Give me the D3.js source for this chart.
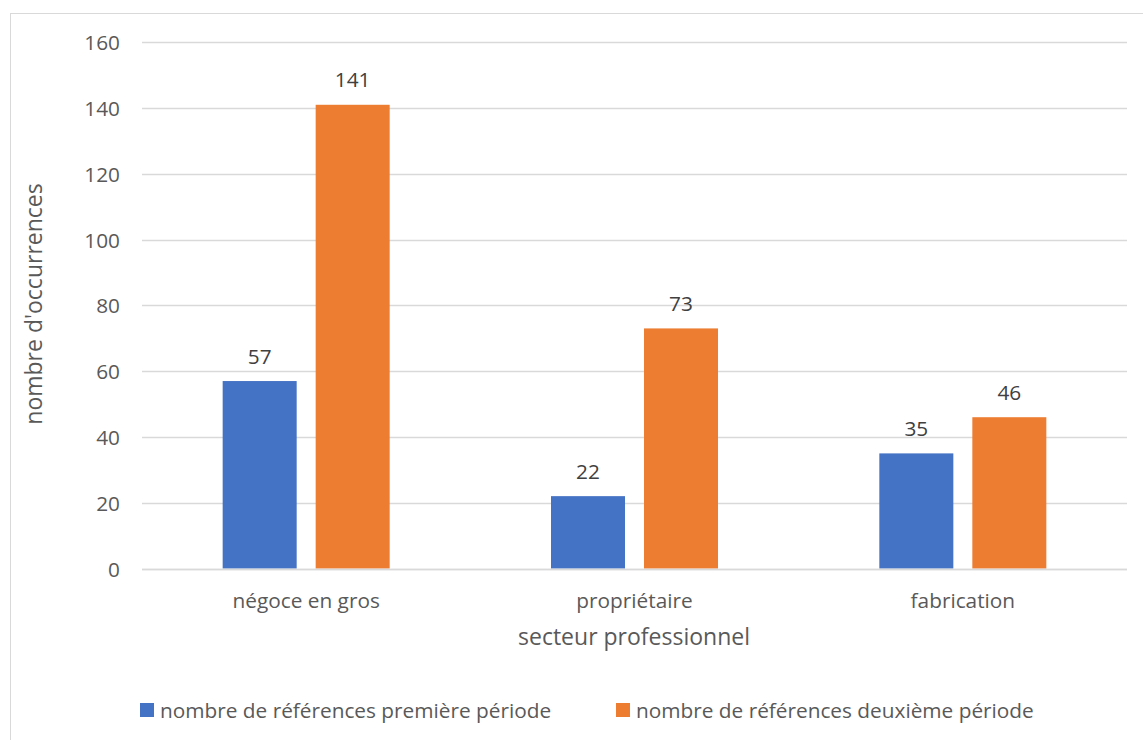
<!DOCTYPE html>
<html><head><meta charset="utf-8">
<script src="https://cdn.jsdelivr.net/npm/d3@7"></script>
<style>
html,body{margin:0;padding:0;background:#fff;}
text{font-family:"Open Sans",sans-serif;fill:#595959;}
</style></head>
<body>
<svg id="chart" width="1143" height="740"></svg>
<script>
const categories = ["négoce en gros", "propriétaire", "fabrication"];
const seriesNames = ["nombre de références première période", "nombre de références deuxième période"];
const firstPeriod = [57, 22, 35];
const secondPeriod = [141, 73, 46];
const yTicks = [0, 20, 40, 60, 80, 100, 120, 140, 160];
const colors = ["#4472C4", "#ED7D31"];
const yTitle = "nombre d'occurrences";
const xTitle = "secteur professionnel";

const FONT = '"Open Sans",sans-serif';
const FS = "20.8px";
const svg = d3.select("#chart");
svg.append("rect").attr("x",10.5).attr("y",13.5).attr("width",1140).attr("height",740)
  .attr("fill","#fff").attr("stroke","#d9d9d9").attr("stroke-width",1);

const m = {left:142, right:1127, top:42.3, bottom:568.5};
const x = d3.scaleBand().domain(categories).range([m.left, m.right]).paddingInner(0).paddingOuter(0);
const y = d3.scaleLinear().domain([0,160]).range([m.bottom, m.top]);
const inner = d3.scaleBand().domain([0,1]).range([0, 167]).paddingInner(19/93).paddingOuter(0);
const groupOffset = (x.bandwidth()-167)/2;

svg.append("g").selectAll("line").data(yTicks).join("line")
  .attr("x1", m.left).attr("x2", m.right)
  .attr("y1", d=>Math.round(y(d))+0.5).attr("y2", d=>Math.round(y(d))+0.5)
  .attr("stroke","#d9d9d9").attr("stroke-width",1.3);

const yAxis = d3.axisLeft(y).tickValues(yTicks).tickSize(0).tickPadding(0);
const gy = svg.append("g").attr("transform", `translate(${120},0)`).call(yAxis);
gy.select(".domain").remove();
gy.selectAll("text").attr("font-size",FS).style("fill","#595959").attr("dy","0.36em")
  .style("font-family",FONT);

const data = categories.map((c,i)=>({cat:c, vals:[firstPeriod[i], secondPeriod[i]]}));
const groups = svg.append("g").selectAll("g").data(data).join("g")
  .attr("transform", d=>`translate(${x(d.cat)+groupOffset},0)`);
groups.selectAll("rect").data(d=>d.vals.map((v,j)=>({v,j}))).join("rect")
  .attr("x", d=>inner(d.j)).attr("width", inner.bandwidth())
  .attr("y", d=>y(d.v)).attr("height", d=>y(0)-y(d.v))
  .attr("fill", d=>colors[d.j]);
groups.selectAll("text").data(d=>d.vals.map((v,j)=>({v,j}))).join("text")
  .attr("x", d=>inner(d.j)+inner.bandwidth()/2).attr("y", d=>y(d.v)-25).attr("dy","0.36em")
  .attr("text-anchor","middle").attr("font-size",FS).style("fill","#404040").text(d=>d.v);

svg.append("line").attr("x1",m.left).attr("x2",m.right).attr("y1",Math.round(y(0))+0.5).attr("y2",Math.round(y(0))+0.5)
  .attr("stroke","#d9d9d9").attr("stroke-width",1.3);

const xAxis = d3.axisBottom(x).tickSize(0).tickPadding(0);
const gx = svg.append("g").attr("transform",`translate(0,${600})`).call(xAxis);
gx.select(".domain").remove();
gx.selectAll("text").attr("font-size",FS).attr("dy","0.36em").attr("y",0).style("fill","#595959")
  .style("font-family",FONT);

svg.append("text").attr("x",634).attr("y",637).attr("dy","0.36em")
  .attr("text-anchor","middle").attr("font-size","23px").text(xTitle);
svg.append("text").attr("transform",`translate(34,${304}) rotate(-90)`).attr("dy","0.36em")
  .attr("text-anchor","middle").attr("font-size","23px").text(yTitle);

const legX = [140, 616];
const leg = svg.append("g").selectAll("g").data(seriesNames).join("g")
  .attr("transform",(d,i)=>`translate(${legX[i]},703)`);
leg.append("rect").attr("width",14).attr("height",14).attr("fill",(d,i)=>colors[i]);
leg.append("text").attr("x",20).attr("y",7).attr("dy","0.36em").attr("font-size",FS).text(d=>d);
</script>
</body></html>
